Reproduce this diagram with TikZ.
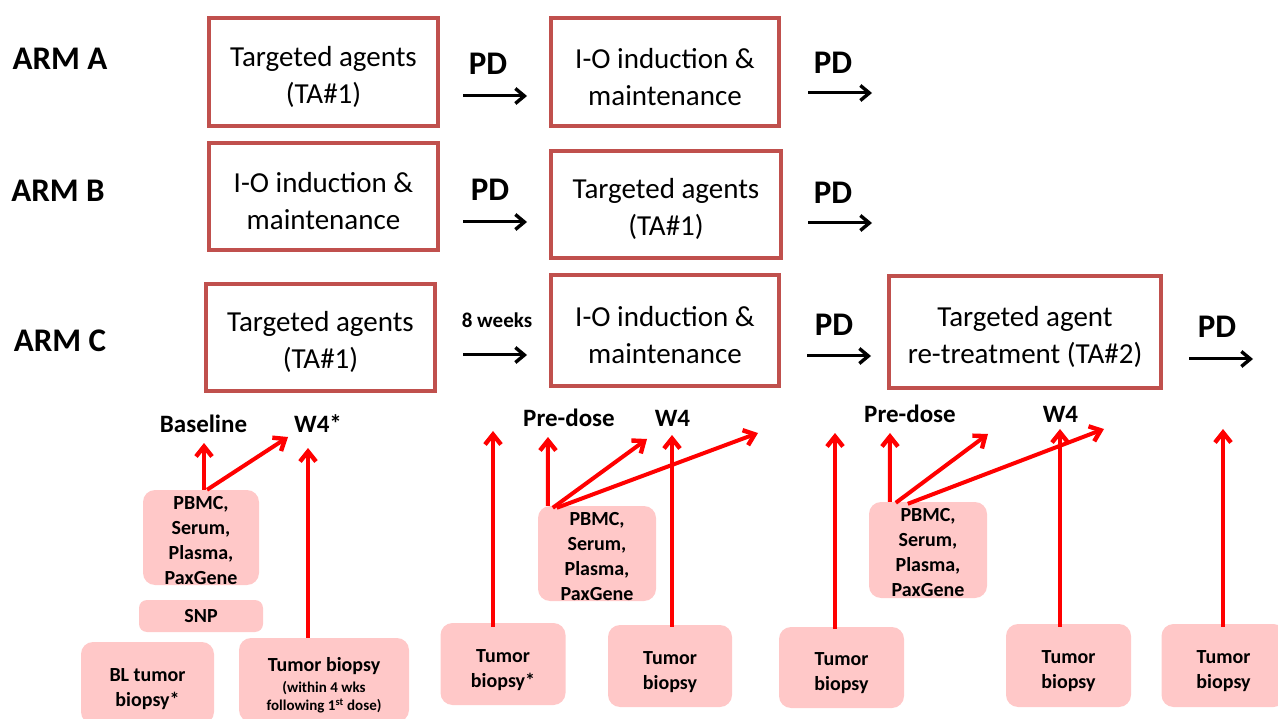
\documentclass[tikz,border=0pt]{standalone}
\usepackage{fontspec}
\setmainfont{Carlito}
\usetikzlibrary{arrows.meta}
\definecolor{boxred}{RGB}{192,80,77}
\definecolor{samplepink}{RGB}{255,200,200}
\definecolor{flowred}{RGB}{255,0,0}
% strut that lowers a multi-line node text inside its box
\newcommand\lowered[1]{\rule{0pt}{#1}}

\begin{document}
\begin{tikzpicture}[x=1pt,y=-1pt,
  stage/.style={draw=boxred,line width=4pt,fill=white,align=center,
    font=\fontsize{29}{37}\selectfont,inner sep=0pt},
  sample/.style={fill=samplepink,rounded corners=12pt,align=center,
    font=\bfseries\fontsize{20}{25}\selectfont,inner sep=0pt},
  armlabel/.style={font=\bfseries\fontsize{33}{40}\selectfont,anchor=base},
  pdlabel/.style={font=\bfseries\fontsize{33}{40}\selectfont,anchor=base},
  weeklabel/.style={font=\bfseries\fontsize{21}{25}\selectfont,anchor=base},
  timepoint/.style={font=\bfseries\fontsize{25}{30}\selectfont,anchor=base},
  flow/.style={line width=3pt,-{Straight Barb[length=9pt,width=15pt,line width=3.4pt]}},
  collect/.style={draw=flowred,line width=4pt,-{Straight Barb[length=10pt,width=16pt,line width=4.4pt]}}
]
\useasboundingbox (0,0) rectangle (1278,719);

% ---- arm labels
\node[armlabel] (armA) at (60,70) {ARM A};
\node[armlabel] (armB) at (58,202) {ARM B};
\node[armlabel] (armC) at (60,352) {ARM C};

% ---- treatment stages
\node[stage,minimum width=229pt,minimum height=108pt] (a1) at (323.5,72) {\lowered{30pt}Targeted agents\\(TA\#1)};
\node[stage,minimum width=228pt,minimum height=108pt] (a2) at (665,72) {\lowered{30pt}I-O induction \&\\maintenance};
\node[stage,minimum width=229pt,minimum height=107pt] (b1) at (323.5,196.5) {\lowered{30pt}I-O induction \&\\maintenance};
\node[stage,minimum width=230pt,minimum height=107pt] (b2) at (666,204.5) {\lowered{30pt}Targeted agents\\(TA\#1)};
\node[stage,minimum width=229pt,minimum height=107pt] (c1) at (320.5,337.5) {\lowered{30pt}Targeted agents\\(TA\#1)};
\node[stage,minimum width=228pt,minimum height=111pt] (c2) at (665,330.5) {\lowered{30pt}I-O induction \&\\maintenance};
\node[stage,minimum width=272pt,minimum height=112pt] (c3) at (1025,332) {\lowered{30pt}Targeted agent\\re-treatment (TA\#2)};

% ---- progression labels and arrows
\node[pdlabel] (pdA1) at (488,75) {PD};
\node[pdlabel] (pdA2) at (833,74) {PD};
\node[pdlabel] (pdB1) at (490,201) {PD};
\node[pdlabel] (pdB2) at (833,204) {PD};
\node[weeklabel] (wkC1) at (497,328) {8 weeks};
\node[pdlabel] (pdC2) at (834,336) {PD};
\node[pdlabel] (pdC3) at (1217,338) {PD};

\coordinate (fA1s) at (463,96);  \coordinate (fA1e) at (527,96);
\coordinate (fA2s) at (808,93);  \coordinate (fA2e) at (872,93);
\coordinate (fB1s) at (463,222); \coordinate (fB1e) at (527,222);
\coordinate (fB2s) at (808,223); \coordinate (fB2e) at (872,223);
\coordinate (fC1s) at (463,355); \coordinate (fC1e) at (527,355);
\coordinate (fC2s) at (807,356); \coordinate (fC2e) at (871,356);
\coordinate (fC3s) at (1189,359); \coordinate (fC3e) at (1253,359);
\foreach \f in {A1,A2,B1,B2,C1,C2,C3}
  \draw[flow] (f\f s) -- (f\f e);

% ---- sampling time points
\node[timepoint] (base) at (203.5,432) {Baseline};
\node[timepoint] (w4a) at (318,432) {W4*};
\node[timepoint] (pre2) at (569,426) {Pre-dose};
\node[timepoint] (w4b) at (672.5,426) {W4};
\node[timepoint] (pre3) at (910,423) {Pre-dose};
\node[timepoint] (w4c) at (1060.5,423) {W4};

% ---- samples
\node[sample,minimum width=116pt,minimum height=95pt] (p1) at (201,537.5) {\lowered{19pt}PBMC,\\Serum,\\Plasma,\\PaxGene};
\node[sample,minimum width=124pt,minimum height=32pt,rounded corners=8pt] (snp) at (201,616) {SNP};
\node[sample,minimum width=133pt,minimum height=82pt] (bl) at (147.5,683) {\lowered{25pt}BL tumor\\biopsy*};
\node[sample,minimum width=170pt,minimum height=84pt,font=\bfseries\fontsize{15}{18}\selectfont] (tb1) at (324,680)
  {\lowered{24pt}{\fontsize{20}{25}\selectfont Tumor biopsy}\\[3pt](within 4 wks\\following 1\textsuperscript{st} dose)};
\node[sample,minimum width=125pt,minimum height=82pt] (t2) at (503,664) {\lowered{25pt}Tumor\\biopsy*};
\node[sample,minimum width=118pt,minimum height=95pt] (p2) at (597,553.5) {\lowered{19pt}PBMC,\\Serum,\\Plasma,\\PaxGene};
\node[sample,minimum width=124pt,minimum height=82pt] (t3) at (670,666) {\lowered{25pt}Tumor\\biopsy};
\node[sample,minimum width=125pt,minimum height=81pt] (t4) at (841.5,667.5) {\lowered{25pt}Tumor\\biopsy};
\node[sample,minimum width=118pt,minimum height=96pt] (p3) at (928,550) {\lowered{19pt}PBMC,\\Serum,\\Plasma,\\PaxGene};
\node[sample,minimum width=125pt,minimum height=83pt] (t5) at (1068.5,665.5) {\lowered{25pt}Tumor\\biopsy};
\node[sample,minimum width=124pt,minimum height=83pt] (t6) at (1223.5,665.5) {\lowered{25pt}Tumor\\biopsy};

% ---- collection arrow tips
\coordinate (k1a) at (204,443);
\coordinate (k1b) at (288,437);
\coordinate (ktb1) at (308,448);
\coordinate (kt2) at (493,431);
\coordinate (k2a) at (548,437);
\coordinate (k2b) at (647,439);
\coordinate (k2c) at (758,433);
\coordinate (kt3) at (672,435);
\coordinate (kt4) at (835,433);
\coordinate (k3a) at (890,433);
\coordinate (k3b) at (988,434);
\coordinate (k3c) at (1104,429);
\coordinate (kt5) at (1060,429);
\coordinate (kt6) at (1223,429);

% ---- collection arrows
\draw[collect] ([xshift=3pt]p1.north) -- (k1a);
\draw[collect] ([xshift=6pt]p1.north) -- (k1b);
\draw[collect] (tb1.north -| ktb1) -- (ktb1);
\draw[collect] ([yshift=-4pt]t2.north -| kt2) -- (kt2);
\draw[collect] ([xshift=10pt]p2.north west) -- (k2a);
\draw[collect] ([xshift=15pt,yshift=-2pt]p2.north west) -- (k2b);
\draw[collect] ([xshift=19pt,yshift=-2pt]p2.north west) -- (k2c);
\draw[collect] ([yshift=-2pt]t3.north -| kt3) -- (kt3);
\draw[collect] ([yshift=-2pt]t4.north -| kt4) -- (kt4);
\draw[collect] ([xshift=21pt]p3.north west) -- (k3a);
\draw[collect] ([xshift=27pt,yshift=-1pt]p3.north west) -- (k3b);
\draw[collect] ([xshift=39pt,yshift=-2pt]p3.north west) -- (k3c);
\draw[collect] ([yshift=-3pt]t5.north -| kt5) -- (kt5);
\draw[collect] ([yshift=-3pt]t6.north -| kt6) -- (kt6);
\end{tikzpicture}
\end{document}
